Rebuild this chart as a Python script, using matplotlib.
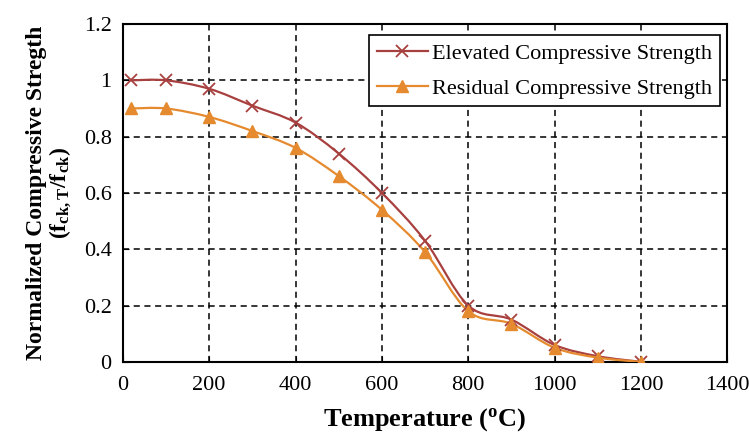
import numpy as np
import matplotlib
matplotlib.use("Agg")
import matplotlib.pyplot as plt
from matplotlib.path import Path
from matplotlib.patches import PathPatch
from matplotlib.lines import Line2D

# values
temps = [20, 100, 200, 300, 400, 500, 600, 700, 800, 900, 1000, 1100, 1200]
elevated = [1.0, 1.0, 0.97, 0.91, 0.85, 0.74, 0.60, 0.43, 0.20, 0.15, 0.06, 0.02, 0.0]
residual = [0.90, 0.90, 0.87, 0.82, 0.76, 0.66, 0.54, 0.39, 0.18, 0.135, 0.05, 0.015, 0.0]

elev_color = "#A8403F"
resid_color = "#E58A2E"

plt.rcParams['font.family'] = ['Liberation Serif', 'DejaVu Serif']
plt.rcParams['mathtext.fontset'] = 'custom'
plt.rcParams['mathtext.rm'] = 'Liberation Serif'
plt.rcParams['mathtext.bf'] = 'Liberation Serif:bold'


def smooth_path(xs, ys, tension=1 / 6):
    # excel-like smoothed line: cubic bezier segments through the points
    xs = np.asarray(xs, float)
    ys = np.asarray(ys, float)
    n = len(xs)
    verts = [(xs[0], ys[0])]
    codes = [Path.MOVETO]
    for i in range(n - 1):
        i0 = max(i - 1, 0)
        i3 = min(i + 2, n - 1)
        c1 = (xs[i] + (xs[i + 1] - xs[i0]) * tension, ys[i] + (ys[i + 1] - ys[i0]) * tension)
        c2 = (xs[i + 1] - (xs[i3] - xs[i]) * tension, ys[i + 1] - (ys[i3] - ys[i]) * tension)
        verts += [c1, c2, (xs[i + 1], ys[i + 1])]
        codes += [Path.CURVE4] * 3
    return Path(verts, codes)


fig = plt.figure(figsize=(7.49, 4.37), dpi=100)
ax = fig.add_axes([0.164, 0.172, 0.807, 0.773])

ax.add_patch(PathPatch(smooth_path(temps, elevated), fill=False, edgecolor=elev_color, lw=1.6, zorder=3))
ax.add_patch(PathPatch(smooth_path(temps, residual), fill=False, edgecolor=resid_color, lw=1.6, zorder=3))
ax.plot(temps, elevated, ls="none", marker="x", ms=8, mew=1.3, color=elev_color, zorder=4)
ax.plot(temps, residual, ls="none", marker="^", ms=8, color=resid_color, zorder=4)

ax.set_xlim(0, 1400)
ax.set_ylim(0, 1.2)
ax.set_xticks(range(0, 1401, 200))
ax.set_yticks([0, 0.2, 0.4, 0.6, 0.8, 1.0, 1.2])
ax.set_yticklabels(["0", "0.2", "0.4", "0.6", "0.8", "1", "1.2"])
ax.tick_params(direction="in", labelsize=16, length=4, pad=8)
ax.tick_params(axis="x", pad=10)
ax.grid(True, color="black", ls=(0, (4, 3)), lw=1.1)

for s in ax.spines.values():
    s.set_linewidth(1.5)

ax.set_xlabel("Temperature ($\\mathbf{^oC}$)", fontsize=19, fontweight="bold", labelpad=8)
ax.set_ylabel("Normalized Compressive Stregth\n($\\mathbf{f_{ck,T}/f_{ck}}$)",
              fontsize=17, fontweight="bold", labelpad=8, linespacing=1.05)

handles = [
    Line2D([], [], color=elev_color, marker="x", ms=8, mew=1.3, lw=1.6),
    Line2D([], [], color=resid_color, marker="^", ms=8, lw=1.6),
]
leg = ax.legend(handles, ["Elevated Compressive Strength", "Residual Compressive Strength"],
                loc="upper right", bbox_to_anchor=(0.988, 0.967), borderaxespad=0,
                fontsize=16, fancybox=False, framealpha=1, edgecolor="black",
                handlelength=2.3, handletextpad=0.2, borderpad=0.35, labelspacing=0.65)
leg.get_frame().set_linewidth(1.2)

fig.savefig("out.png", dpi=100)
